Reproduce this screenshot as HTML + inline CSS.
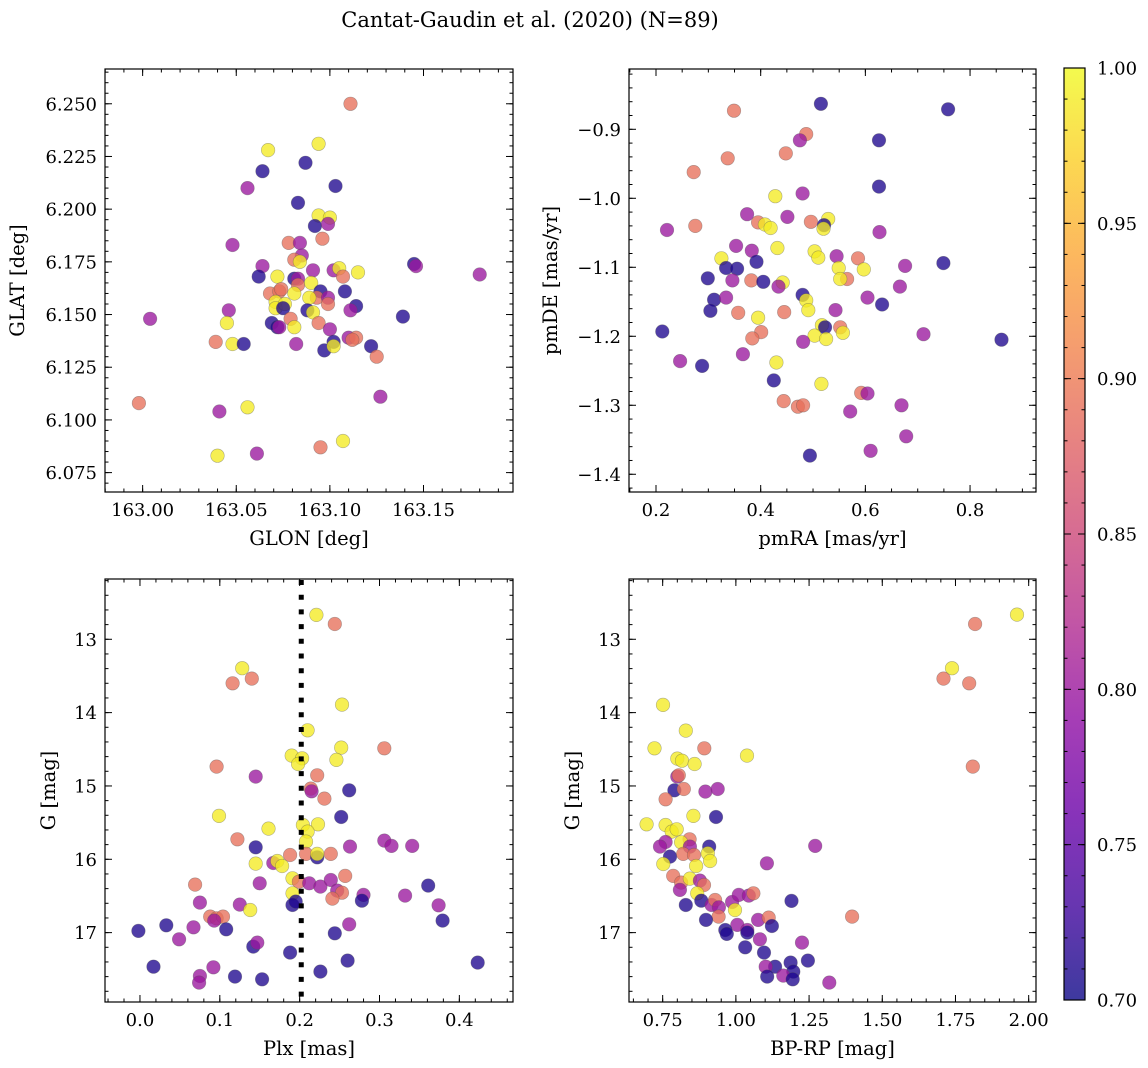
<!DOCTYPE html>
<html><head><meta charset="utf-8">
<style>
html,body{margin:0;padding:0;background:#fff;}
svg{display:block;font-family:"DejaVu Serif","Liberation Serif",serif;}
</style></head>
<body>
<svg id="fig" width="1148" height="1068" viewBox="0 0 1148 1068" xmlns="http://www.w3.org/2000/svg">
<defs>
<linearGradient id="plasmaGrad" x1="0" y1="1" x2="0" y2="0">
<stop offset="0" stop-color="#0d0887"/><stop offset="0.1" stop-color="#41049d"/>
<stop offset="0.2" stop-color="#6a00a8"/><stop offset="0.3" stop-color="#8f0da4"/>
<stop offset="0.4" stop-color="#b12a90"/><stop offset="0.5" stop-color="#cc4778"/>
<stop offset="0.6" stop-color="#e16462"/><stop offset="0.7" stop-color="#f2844b"/>
<stop offset="0.8" stop-color="#fca636"/><stop offset="0.9" stop-color="#fcce25"/>
<stop offset="1" stop-color="#f0f921"/>
</linearGradient>
</defs>
<text x="530" y="27" text-anchor="middle" font-size="21">Cantat-Gaudin et al. (2020) (N=89)</text>
</svg>
<script>
// ---------- Panel 1 data: GLON / GLAT ----------
const glon = [163.111,163.094,163.067,163.087,163.064,163.103,163.056,163.083,163.094,163.100,
163.092,163.099,163.096,163.078,163.084,163.048,163.085,163.081,163.084,163.064,
163.091,163.102,163.105,163.107,163.115,163.145,163.146,163.180,163.062,163.072,
163.081,163.083,163.083,163.090,163.095,163.108,163.068,163.073,163.074,163.081,
163.093,163.089,163.099,163.099,163.071,163.071,163.076,163.075,163.114,163.111,
163.046,163.088,163.091,163.004,163.139,163.045,163.069,163.072,163.073,163.079,
163.081,163.094,163.100,163.110,163.114,163.112,163.039,163.048,163.054,163.082,
163.097,163.102,163.102,163.122,163.125,163.127,162.998,163.041,163.056,163.107,
163.095,163.040,163.061];
const glat = [6.250,6.231,6.228,6.222,6.218,6.211,6.210,6.203,6.197,6.196,
6.192,6.193,6.186,6.184,6.184,6.183,6.178,6.176,6.175,6.173,
6.171,6.171,6.172,6.168,6.170,6.174,6.173,6.169,6.168,6.168,
6.167,6.167,6.164,6.165,6.161,6.161,6.160,6.161,6.162,6.160,
6.158,6.158,6.158,6.155,6.156,6.153,6.155,6.153,6.154,6.152,
6.152,6.152,6.151,6.148,6.149,6.146,6.146,6.144,6.144,6.148,
6.144,6.146,6.143,6.139,6.139,6.138,6.137,6.136,6.136,6.136,
6.133,6.137,6.135,6.135,6.130,6.111,6.108,6.104,6.106,6.090,
6.087,6.083,6.084];
const prob1 = [0.89,0.99,0.99,0.71,0.71,0.71,0.80,0.71,0.99,0.99,
0.71,0.80,0.89,0.89,0.80,0.80,0.80,0.89,0.99,0.80,
0.80,0.80,0.99,0.89,0.99,0.71,0.80,0.80,0.71,0.99,
0.71,0.80,0.89,0.99,0.71,0.71,0.89,0.89,0.89,0.99,
0.89,0.99,0.80,0.89,0.99,0.99,0.99,0.71,0.71,0.80,
0.80,0.71,0.99,0.80,0.71,0.99,0.71,0.71,0.80,0.89,
0.99,0.89,0.80,0.80,0.89,0.89,0.89,0.99,0.71,0.80,
0.71,0.71,0.99,0.71,0.89,0.80,0.89,0.80,0.99,0.99,
0.89,0.99,0.80];
// ---------- Panel 2 data: pmRA / pmDE ----------
const pmra = [0.515,0.758,0.349,0.487,0.475,0.626,0.448,0.337,0.272,0.626,
0.428,0.480,0.374,0.451,0.395,0.408,0.419,0.496,0.529,0.521,
0.520,0.221,0.275,0.627,0.353,0.432,0.383,0.503,0.510,0.545,
0.586,0.325,0.392,0.334,0.355,0.549,0.597,0.676,0.749,0.299,
0.346,0.382,0.405,0.442,0.565,0.552,0.434,0.666,0.480,0.487,
0.311,0.334,0.604,0.632,0.304,0.491,0.357,0.445,0.543,0.395,
0.517,0.523,0.552,0.557,0.503,0.525,0.401,0.384,0.212,0.481,
0.711,0.860,0.366,0.246,0.288,0.430,0.425,0.516,0.592,0.604,
0.444,0.471,0.481,0.669,0.571,0.678,0.610,0.494];
const pmde = [-0.863,-0.871,-0.873,-0.907,-0.916,-0.916,-0.935,-0.942,-0.962,-0.983,
-0.997,-0.993,-1.023,-1.027,-1.035,-1.038,-1.043,-1.034,-1.030,-1.039,
-1.044,-1.046,-1.040,-1.049,-1.069,-1.072,-1.076,-1.077,-1.086,-1.084,
-1.087,-1.087,-1.092,-1.101,-1.102,-1.101,-1.103,-1.098,-1.094,-1.116,
-1.119,-1.119,-1.121,-1.122,-1.117,-1.117,-1.128,-1.128,-1.140,-1.148,
-1.147,-1.144,-1.144,-1.154,-1.163,-1.162,-1.166,-1.165,-1.162,-1.173,
-1.184,-1.187,-1.187,-1.195,-1.199,-1.204,-1.194,-1.203,-1.193,-1.208,
-1.197,-1.205,-1.226,-1.236,-1.243,-1.238,-1.264,-1.269,-1.282,-1.283,
-1.294,-1.302,-1.300,-1.300,-1.309,-1.345,-1.366,-1.373];
const prob2 = [0.71,0.71,0.89,0.89,0.80,0.71,0.89,0.89,0.89,0.71,
0.99,0.80,0.80,0.80,0.89,0.99,0.99,0.89,0.99,0.71,
0.99,0.80,0.89,0.80,0.80,0.99,0.80,0.99,0.99,0.80,
0.89,0.99,0.71,0.71,0.71,0.99,0.99,0.80,0.71,0.71,
0.80,0.89,0.71,0.99,0.89,0.99,0.80,0.80,0.71,0.99,
0.71,0.80,0.80,0.71,0.71,0.99,0.89,0.89,0.80,0.99,
0.99,0.71,0.89,0.99,0.99,0.99,0.89,0.89,0.71,0.80,
0.80,0.71,0.80,0.80,0.71,0.99,0.71,0.99,0.89,0.80,
0.89,0.89,0.89,0.80,0.80,0.80,0.80,0.71];
// ---------- Panel 3 data: Plx / G ----------
const plx = [0.221,0.244,0.128,0.116,0.140,0.253,0.210,0.306,0.252,0.246,
0.190,0.203,0.198,0.096,0.145,0.222,0.214,0.215,0.262,0.231,
0.252,0.099,0.161,0.204,0.223,0.210,0.208,0.122,0.145,0.263,
0.306,0.315,0.341,0.188,0.208,0.222,0.222,0.239,0.167,0.172,
0.178,0.145,0.150,0.191,0.199,0.212,0.226,0.239,0.257,0.247,
0.253,0.241,0.280,0.278,0.332,0.361,0.374,0.379,0.069,0.075,
0.125,0.138,0.191,0.191,0.195,0.088,0.096,0.104,0.093,0.108,
0.067,0.049,0.033,-0.002,0.142,0.147,0.188,0.244,0.262,0.260,
0.226,0.423,0.017,0.092,0.075,0.074,0.119,0.153];
const gmag3 = [12.668,12.791,13.395,13.600,13.536,13.891,14.241,14.486,14.477,14.645,
14.586,14.623,14.700,14.736,14.873,14.855,15.036,15.073,15.059,15.173,
15.423,15.409,15.582,15.532,15.523,15.623,15.759,15.727,15.836,15.827,
15.745,15.818,15.818,15.941,15.927,15.973,15.927,15.927,16.050,16.023,
16.091,16.059,16.327,16.259,16.305,16.327,16.373,16.282,16.227,16.427,
16.455,16.536,16.486,16.564,16.495,16.359,16.627,16.836,16.345,16.591,
16.618,16.691,16.464,16.623,16.577,16.782,16.805,16.782,16.836,16.955,
16.927,17.091,16.900,16.977,17.191,17.136,17.273,17.009,16.886,17.382,
17.532,17.409,17.464,17.473,17.591,17.682,17.600,17.636];
const prob3 = [0.99,0.89,0.99,0.89,0.89,0.99,0.99,0.89,0.99,0.99,
0.99,0.99,0.99,0.89,0.80,0.89,0.89,0.80,0.71,0.89,
0.71,0.99,0.99,0.99,0.99,0.99,0.99,0.89,0.71,0.80,
0.80,0.80,0.80,0.89,0.89,0.71,0.99,0.89,0.80,0.99,
0.99,0.99,0.80,0.99,0.89,0.80,0.80,0.80,0.89,0.80,
0.89,0.89,0.80,0.71,0.80,0.71,0.80,0.71,0.89,0.80,
0.80,0.99,0.99,0.71,0.71,0.89,0.89,0.89,0.80,0.71,
0.80,0.80,0.71,0.71,0.71,0.80,0.71,0.71,0.80,0.71,
0.71,0.71,0.71,0.80,0.80,0.80,0.71,0.71];
const plxCut = [0.202];
// ---------- Panel 4 data: BP-RP / G ----------
const bprp = [1.960,1.817,1.738,1.709,1.797,1.809,0.751,0.829,0.722,0.892,
1.038,0.800,0.816,0.859,0.800,0.805,0.790,0.822,0.760,0.896,
0.938,0.932,0.855,0.695,0.760,0.781,0.798,0.842,0.760,0.741,
0.813,0.909,0.843,0.775,0.820,0.857,0.904,0.912,1.271,1.106,
0.752,0.864,0.786,0.813,0.843,0.877,0.891,0.809,0.868,0.882,
0.829,0.917,0.929,0.942,0.941,0.987,0.997,1.010,1.044,1.060,
1.190,1.076,1.112,1.123,0.898,1.005,1.039,0.964,0.969,1.039,
1.082,1.032,1.096,1.226,1.397,1.246,1.187,1.134,1.102,1.196,
1.107,1.162,1.194,1.319];
const gmag4 = [12.664,12.791,13.395,13.536,13.600,14.736,13.895,14.245,14.486,14.486,
14.586,14.627,14.655,14.700,14.873,14.855,15.059,15.041,15.182,15.077,
15.041,15.423,15.409,15.523,15.532,15.623,15.591,15.727,15.764,15.827,
15.768,15.827,15.827,15.964,15.927,15.941,15.918,16.023,15.818,16.055,
16.064,16.091,16.227,16.318,16.264,16.291,16.350,16.418,16.464,16.564,
16.623,16.623,16.555,16.655,16.782,16.582,16.691,16.486,16.495,16.464,
16.568,16.827,16.795,16.909,16.827,16.895,16.964,16.964,17.018,17.000,
17.091,17.200,17.273,17.136,16.782,17.382,17.409,17.464,17.464,17.532,
17.600,17.586,17.636,17.682];
const prob4 = [0.99,0.89,0.99,0.89,0.89,0.89,0.99,0.99,0.99,0.89,
0.99,0.99,0.99,0.99,0.80,0.89,0.71,0.89,0.89,0.80,
0.80,0.71,0.99,0.99,0.99,0.99,0.99,0.89,0.80,0.80,
0.99,0.71,0.80,0.71,0.89,0.89,0.99,0.99,0.80,0.80,
0.99,0.99,0.89,0.89,0.99,0.80,0.89,0.80,0.99,0.71,
0.71,0.80,0.89,0.80,0.89,0.80,0.99,0.80,0.80,0.89,
0.71,0.80,0.89,0.71,0.71,0.80,0.80,0.71,0.71,0.71,
0.80,0.71,0.71,0.80,0.89,0.71,0.71,0.71,0.80,0.71,
0.71,0.80,0.71,0.80];
// ---------- tick labels ----------
const ticks1x = [163.00,163.05,163.10,163.15];
const ticks1y = [6.075,6.100,6.125,6.150,6.175,6.200,6.225,6.250];
const ticks2x = [0.2,0.4,0.6,0.8];
const ticks2y = [-1.4,-1.3,-1.2,-1.1,-1.0,-0.9];
const ticks3x = [0.0,0.1,0.2,0.3,0.4];
const ticksG = [13,14,15,16,17];
const ticks4x = [0.75,1.00,1.25,1.50,1.75,2.00];
const cbTicks = [0.70,0.75,0.80,0.85,0.90,0.95,1.00];

const NS = 'http://www.w3.org/2000/svg';
const svg = document.getElementById('fig');
function mk(tag, attrs, parent){ const e=document.createElementNS(NS,tag); for(const k in attrs) e.setAttribute(k,attrs[k]); (parent||svg).appendChild(e); return e; }

const stops=[[0,'#0d0887'],[0.1,'#41049d'],[0.2,'#6a00a8'],[0.3,'#8f0da4'],[0.4,'#b12a90'],[0.5,'#cc4778'],[0.6,'#e16462'],[0.7,'#f2844b'],[0.8,'#fca636'],[0.9,'#fcce25'],[1,'#f0f921']];
function hex(h){return [parseInt(h.substr(1,2),16),parseInt(h.substr(3,2),16),parseInt(h.substr(5,2),16)];}
function plasma(v){ let t=(v-0.7)/0.3; t=Math.max(0,Math.min(1,t));
  for(let i=0;i<stops.length-1;i++){ if(t<=stops[i+1][0]){ const f=(t-stops[i][0])/(stops[i+1][0]-stops[i][0]); const a=hex(stops[i][1]), b=hex(stops[i+1][1]); return 'rgb('+a.map((c,j)=>Math.round(c+(b[j]-c)*f)).join(',')+')'; } }
  return stops[stops.length-1][1]; }

function panel(cfg){
  const {name,L,R,T,B,xmin,xmax,ymin,ymax,invertY,xt,yt,xfmt,yfmt,xminor,yminor,xlabel,ylabel,ylabelX,xs,ys,ps} = cfg;
  const g = mk('g',{});
  
  
  const sx = v => L + (v-xmin)/(xmax-xmin)*(R-L);
  const sy = v => invertY ? T + (v-ymin)/(ymax-ymin)*(B-T) : B - (v-ymin)/(ymax-ymin)*(B-T);
  const pts = mk('g',{},g);
  
  
  const n = Math.min(xs.length, ys.length, ps.length);
  for(let i=0;i<n;i++){
    const c = mk('circle',{cx:sx(xs[i]).toFixed(1),cy:sy(ys[i]).toFixed(1),r:6.8,fill:plasma(ps[i]),'fill-opacity':0.78,stroke:'#555','stroke-opacity':0.45,'stroke-width':0.6},pts);
    
    
  }
  if(cfg.extra) cfg.extra(g,sx,sy);
  const frame = mk('rect',{x:L,y:T,width:R-L,height:B-T,fill:'none',stroke:'#000','stroke-width':1.2},g);
  
  
  const tk = mk('g',{stroke:'#000','stroke-width':1},g);
  for(let v=Math.ceil(xmin/xminor)*xminor; v<=xmax+1e-9; v+=xminor){ const x=sx(v); mk('line',{x1:x,y1:B,x2:x,y2:B-3.5},tk); mk('line',{x1:x,y1:T,x2:x,y2:T+3.5},tk); }
  for(let v=Math.ceil(ymin/yminor)*yminor; v<=ymax+1e-9; v+=yminor){ const y=sy(v); mk('line',{x1:L,y1:y,x2:L+3.5,y2:y},tk); mk('line',{x1:R,y1:y,x2:R-3.5,y2:y},tk); }
  xt.forEach(v=>{ const x=sx(v); mk('line',{x1:x,y1:B,x2:x,y2:B-7},tk); mk('line',{x1:x,y1:T,x2:x,y2:T+7},tk);
    const t=mk('text',{x:x,y:B+24,'text-anchor':'middle','font-size':18},g); t.textContent=xfmt(v);
    
     });
  yt.forEach(v=>{ const y=sy(v); mk('line',{x1:L,y1:y,x2:L+7,y2:y},tk); mk('line',{x1:R,y1:y,x2:R-7,y2:y},tk);
    const t=mk('text',{x:L-8,y:y+6.5,'text-anchor':'end','font-size':18},g); t.textContent=yfmt(v);
    
     });
  const xl=mk('text',{x:(L+R)/2,y:B+53,'text-anchor':'middle','font-size':19.5},g); xl.textContent=xlabel;
  
  
  const cy=(T+B)/2;
  const yl=mk('text',{x:ylabelX,y:cy,'text-anchor':'middle','font-size':19.5,transform:'rotate(-90 '+ylabelX+' '+cy+')'},g); yl.textContent=ylabel;
  
  
}
const minus = s => s.replace('-','\u2212');

panel({name:'glon-glat-panel',L:105,R:513,T:69,B:492,xmin:162.9799,xmax:163.1978,ymin:6.0658,ymax:6.2665,invertY:false,
  xt:ticks1x,yt:ticks1y,xfmt:v=>v.toFixed(2),yfmt:v=>v.toFixed(3),xminor:0.01,yminor:0.005,
  xlabel:'GLON [deg]',ylabel:'GLAT [deg]',ylabelX:24,xs:glon,ys:glat,ps:prob1});
panel({name:'proper-motion-panel',L:629,R:1036,T:69,B:492,xmin:0.1484,xmax:0.926,ymin:-1.4257,ymax:-0.8126,invertY:false,
  xt:ticks2x,yt:ticks2y,xfmt:v=>v.toFixed(1),yfmt:v=>minus(v.toFixed(1)),xminor:0.05,yminor:0.02,
  xlabel:'pmRA [mas/yr]',ylabel:'pmDE [mas/yr]',ylabelX:557,xs:pmra,ys:pmde,ps:prob2});
panel({name:'parallax-mag-panel',L:105,R:513,T:579,B:1002,xmin:-0.0438,xmax:0.4672,ymin:12.178,ymax:17.946,invertY:true,
  xt:ticks3x,yt:ticksG,xfmt:v=>v.toFixed(1),yfmt:v=>String(v),xminor:0.02,yminor:0.2,
  xlabel:'Plx [mas]',ylabel:'G [mag]',ylabelX:55,xs:plx,ys:gmag3,ps:prob3,
  extra:(g,sx,sy)=>{ const x=sx(plxCut[0]); const l=mk('line',{x1:x,y1:580,x2:x,y2:1002,stroke:'#000','stroke-width':5,'stroke-dasharray':'5 9.7'},g);
    
     }});
panel({name:'cmd-panel',L:629,R:1036,T:579,B:1002,xmin:0.635,xmax:2.025,ymin:12.178,ymax:17.946,invertY:true,
  xt:ticks4x,yt:ticksG,xfmt:v=>v.toFixed(2),yfmt:v=>String(v),xminor:0.05,yminor:0.2,
  xlabel:'BP-RP [mag]',ylabel:'G [mag]',ylabelX:579,xs:bprp,ys:gmag4,ps:prob4});

(function(){
  const L=1064,R=1085,T=68,B=1000; const vmin=0.70,vmax=1.00;
  const sy=v=>B-(v-vmin)/(vmax-vmin)*(B-T);
  const g=mk('g',{});
  
  
  mk('rect',{x:L,y:T,width:R-L,height:B-T,fill:'url(#plasmaGrad)','fill-opacity':0.8},g);
  mk('rect',{x:L,y:T,width:R-L,height:B-T,fill:'none',stroke:'#000','stroke-width':1.2},g);
  for(let v=0.70; v<=1.0001; v+=0.01){ const y=sy(v); mk('line',{x1:R,y1:y,x2:R-3.5,y2:y,stroke:'#000'},g); mk('line',{x1:L,y1:y,x2:L+3.5,y2:y,stroke:'#000'},g); }
  cbTicks.forEach(v=>{ const y=sy(v); mk('line',{x1:R,y1:y,x2:R-7,y2:y,stroke:'#000'},g); mk('line',{x1:L,y1:y,x2:L+7,y2:y,stroke:'#000'},g);
    const t=mk('text',{x:R+12,y:y+6.5,'font-size':18},g); t.textContent=v.toFixed(2);
    
     });
})();
</script>
</body></html>
